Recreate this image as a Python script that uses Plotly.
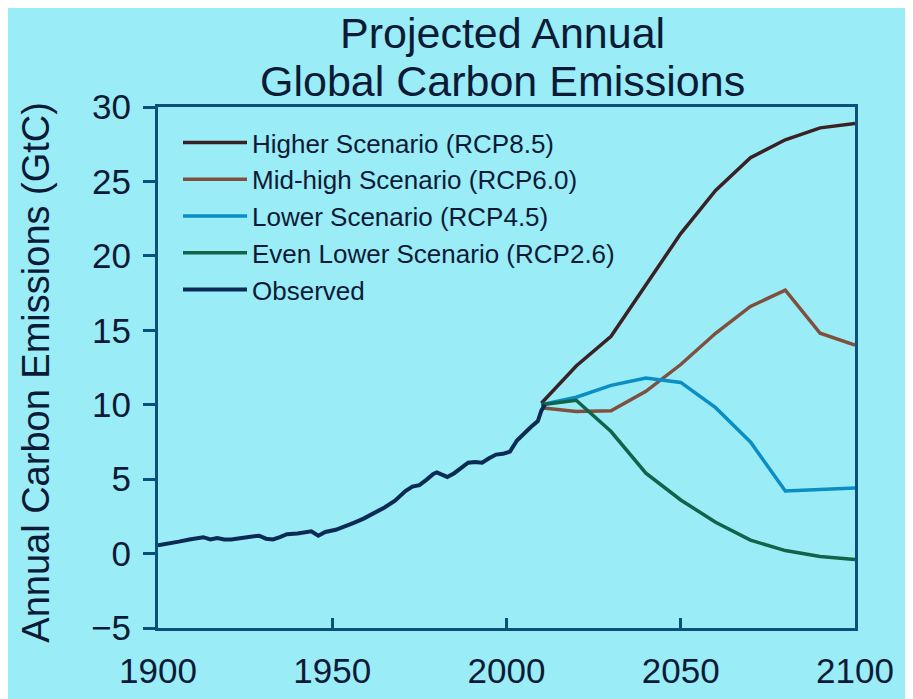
import plotly.graph_objects as go

# ---- data ----
obs_years = [1900, 1903, 1906, 1909, 1912, 1913, 1915, 1917, 1919, 1921, 1924, 1927,
             1929, 1931, 1933, 1935, 1937, 1940, 1942, 1944, 1946, 1948, 1951, 1954,
             1956, 1959, 1962, 1965, 1968, 1971, 1973, 1975, 1977, 1979, 1980, 1982,
             1983, 1985, 1987, 1989, 1991, 1993, 1995, 1997, 1999, 2001, 2003, 2005,
             2007, 2009, 2010, 2011]
obs_values = [0.55, 0.65, 0.8, 0.95, 1.05, 1.1, 0.95, 1.05, 0.95, 0.95, 1.05, 1.15,
              1.2, 1.0, 0.95, 1.1, 1.3, 1.35, 1.45, 1.5, 1.2, 1.45, 1.6, 1.85,
              2.05, 2.35, 2.7, 3.1, 3.55, 4.2, 4.5, 4.6, 4.95, 5.35, 5.45, 5.2,
              5.15, 5.4, 5.75, 6.1, 6.15, 6.1, 6.4, 6.65, 6.7, 6.85, 7.6, 8.1,
              8.5, 8.9, 9.6, 10.0]

proj_years = [2010, 2020, 2030, 2040, 2050, 2060, 2070, 2080, 2090, 2100]
rcp85 = [10.1, 12.6, 14.6, 18.0, 21.5, 24.4, 26.6, 27.8, 28.6, 28.9]
rcp60 = [9.8, 9.55, 9.6, 10.9, 12.7, 14.8, 16.6, 17.7, 14.8, 14.0]
rcp45 = [10.0, 10.5, 11.3, 11.8, 11.5, 9.8, 7.5, 4.2, 4.3, 4.4]
rcp26 = [10.0, 10.3, 8.2, 5.4, 3.6, 2.1, 0.9, 0.2, -0.2, -0.4]

series_names = ["Higher Scenario (RCP8.5)", "Mid-high Scenario (RCP6.0)",
                "Lower Scenario (RCP4.5)", "Even Lower Scenario (RCP2.6)"]
series_values = [rcp85, rcp60, rcp45, rcp26]
series_colors = ["#3a2124", "#80503f", "#0a8ec4", "#11634a"]
obs_name = "Observed"
obs_color = "#0b2b55"

x_ticks = [1900, 1950, 2000, 2050, 2100]
y_ticks = [-5, 0, 5, 10, 15, 20, 25, 30]

title_lines = ["Projected Annual", "Global Carbon Emissions"]
y_title = "Annual Carbon Emissions (GtC)"

# ---- styling ----
BG = "#9aecf6"
AX = "#0c4f7a"
TXT = "#0b1b36"
FONT = "Liberation Sans, Arial, sans-serif"

# page body adds an 8px offset; margins compensate so the plot area lands at
# x 158..855, y 107..628 in the window
L, R, T, B = 150, 66, 99, 79
PW = 913 - L - R
PH = 699 - T - B

fig = go.Figure()
for name, vals, col in zip(series_names, series_values, series_colors):
    fig.add_trace(go.Scatter(x=proj_years, y=vals, mode="lines", name=name,
                             line=dict(color=col, width=3.5)))
fig.add_trace(go.Scatter(x=obs_years, y=obs_values, mode="lines", name=obs_name,
                         line=dict(color=obs_color, width=4)))

fig.update_layout(
    width=913, height=699,
    paper_bgcolor=BG, plot_bgcolor=BG,
    margin=dict(l=L, r=R, t=T, b=B),
    font=dict(family=FONT, color=TXT),
    showlegend=True,
    legend=dict(x=20 / PW, y=1 - 12 / PH, xanchor="left", yanchor="top",
                bgcolor="rgba(0,0,0,0)", font=dict(size=26, color=TXT),
                itemwidth=64, tracegroupgap=0),
)

fig.update_xaxes(range=[1900, 2100], tickvals=x_ticks, ticks="inside", ticklen=10,
                 tickwidth=2.5, tickcolor=AX, showline=True, linecolor=AX, linewidth=3,
                 mirror=True, showgrid=False, zeroline=False,
                 tickfont=dict(size=35, color=TXT), ticklabelstandoff=10)
fig.update_yaxes(range=[-5, 30], tickvals=y_ticks, ticks="outside", ticklen=12,
                 tickwidth=2.5, tickcolor=AX, showline=True, linecolor=AX, linewidth=3,
                 mirror=True, showgrid=False, zeroline=False,
                 tickfont=dict(size=35, color=TXT), ticklabelstandoff=5)

# title lines (window px: centre x 502) and y-axis title
TX = (502 - 158) / PW
fig.add_annotation(text=title_lines[0], xref="paper", yref="paper",
                   x=TX, y=1 + (107 - 33) / PH, xanchor="center",
                   yanchor="middle", showarrow=False, font=dict(size=43, color=TXT))
fig.add_annotation(text=title_lines[1], xref="paper", yref="paper",
                   x=TX, y=1 + (107 - 81) / PH, xanchor="center",
                   yanchor="middle", showarrow=False, font=dict(size=43, color=TXT))
fig.add_annotation(text=y_title, xref="paper", yref="paper",
                   x=(36 - 158) / PW, y=0.49, xanchor="center", yanchor="middle",
                   textangle=-90, showarrow=False, font=dict(size=38, color=TXT))

fig.write_html("out.html")
